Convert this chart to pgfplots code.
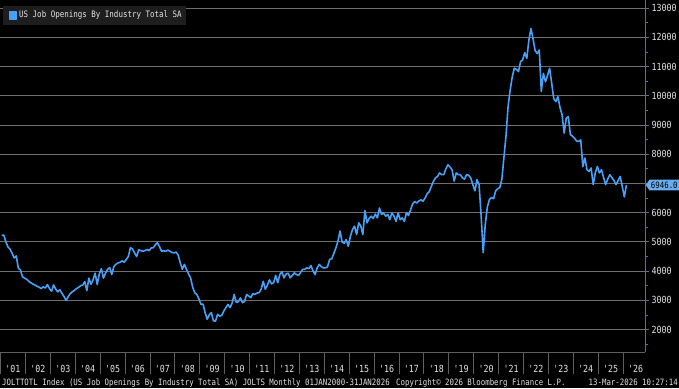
\documentclass[border=0pt]{standalone}
\usepackage{fontspec}
\setmainfont{DejaVu Sans Mono}
\usepackage{graphicx}
\usepackage{pgfplots}
\pgfplotsset{compat=1.18}
\usetikzlibrary{shapes.symbols}
\definecolor{linecol}{RGB}{72,160,248}
\definecolor{gridcol}{RGB}{110,110,110}
\definecolor{sepcol}{RGB}{95,95,95}
\definecolor{axcol}{RGB}{75,115,165}
\definecolor{tagcol}{RGB}{105,172,240}
\definecolor{txt}{RGB}{228,228,228}
\definecolor{legbg}{RGB}{30,30,30}
\newcommand\tall[1]{\scalebox{1}[1.18]{#1}}
\newcommand\yr[1]{\tall{\textquotesingle#1}}
\begin{document}
\begin{tikzpicture}
\useasboundingbox (0pt,0pt) rectangle (679pt,388pt);
\fill[black] (0pt,0pt) rectangle (679pt,388pt);
\begin{axis}[
  at={(0pt,36pt)}, anchor=south west,
  width=645pt, height=352pt, scale only axis,
  clip=false,
  xmin=2000.98, xmax=2026.88,
  ymin=1230, ymax=13280,
  axis line style={draw=none},
  xtick={2001.5,2002.5,...,2026.5},
  xticklabels={\yr{01},\yr{02},\yr{03},\yr{04},\yr{05},\yr{06},\yr{07},\yr{08},\yr{09},\yr{10},\yr{11},\yr{12},\yr{13},\yr{14},\yr{15},\yr{16},\yr{17},\yr{18},\yr{19},\yr{20},\yr{21},\yr{22},\yr{23},\yr{24},\yr{25},\yr{26}},
  xtick pos=bottom,
  xtick style={draw=none},
  xticklabel style={font=\fontsize{8.3}{9}\selectfont, text=txt, anchor=base, yshift=-16pt},
  scaled y ticks=false,
  ytick pos=right, yticklabel pos=right,
  ytick={2000,3000,...,13000},
  yticklabels={\tall{2000},\tall{3000},\tall{4000},\tall{5000},\tall{6000},,\tall{8000},\tall{9000},\tall{10000},\tall{11000},\tall{12000},\tall{13000}},
  minor ytick={1500,2500,...,12500},
  tick align=outside,
  major tick length=4pt, minor tick length=2.5pt,
  ytick style={axcol, line width=0.8pt},
  minor tick style={axcol, line width=0.8pt},
  yticklabel style={font=\fontsize{8.3}{9}\selectfont, text=txt, xshift=-1pt},
  ymajorgrids, grid style={gridcol, line width=0.8pt},
  legend style={at={(0.004,0.984)}, anchor=north west, fill=legbg, draw=none,
    text=txt, font=\fontsize{7.5}{9}\selectfont, inner xsep=2pt, inner ysep=3.5pt, outer sep=0pt},
  legend cell align=left,
  legend image code/.code={\path (0pt,0pt); \fill[linecol] (4pt,-3.5pt) rectangle (11pt,3.5pt);},
]
\draw[sepcol, line width=0.8pt] (rel axis cs:0,0) -- (rel axis cs:1,0);
\pgfplotsinvokeforeach{2001,...,2026}{\draw[sepcol, line width=0.8pt] (axis cs:#1,1230) -- ++(0pt,-22pt);}
\draw[axcol, line width=0.9pt] (rel axis cs:1,0) -- (rel axis cs:1,1);
\addplot[linecol, line width=1.6pt, line join=round, x filter/.expression={2001.05+x/12}] coordinates {
(0,5230)
(1,5230) (2,5000) (3,4830) (4,4750) (5,4610) (6,4450) (7,4520) (8,4100) (9,4040) (10,3800) (11,3760) (12,3720)
(13,3650) (14,3600) (15,3560) (16,3520) (17,3480) (18,3450) (19,3400) (20,3460) (21,3420) (22,3540) (23,3400) (24,3310)
(25,3530) (26,3380) (27,3290) (28,3360) (29,3240) (30,3130) (31,3000) (32,3120) (33,3230) (34,3290) (35,3340) (36,3400)
(37,3440) (38,3500) (39,3520) (40,3640) (41,3330) (42,3760) (43,3550) (44,3700) (45,3930) (46,3540) (47,3900) (48,4080)
(49,3760) (50,3930) (51,4060) (52,4120) (53,3880) (54,4150) (55,4230) (56,4280) (57,4300) (58,4350) (59,4300) (60,4400)
(61,4500) (62,4800) (63,4760) (64,4620) (65,4500) (66,4730) (67,4700) (68,4680) (69,4700) (70,4740) (71,4700) (72,4790)
(73,4800) (74,4900) (75,4970) (76,4840) (77,4680) (78,4700) (79,4670) (80,4720) (81,4680) (82,4640) (83,4620) (84,4650)
(85,4550) (86,4290) (87,4060) (88,4230) (89,4060) (90,3900) (91,3770) (92,3450) (93,3260) (94,3200) (95,3050) (96,2860)
(97,2870) (98,2580) (99,2350) (100,2500) (101,2580) (102,2300) (103,2280) (104,2520) (105,2460) (106,2480) (107,2630) (108,2750)
(109,2860) (110,2750) (111,2900) (112,3200) (113,2930) (114,2950) (115,3080) (116,2920) (117,2960) (118,3200) (119,3150) (120,3090)
(121,3230) (122,3200) (123,3250) (124,3260) (125,3380) (126,3650) (127,3380) (128,3520) (129,3700) (130,3560) (131,3600) (132,3850)
(133,3600) (134,3880) (135,3980) (136,3770) (137,3900) (138,3930) (139,3770) (140,3850) (141,3940) (142,3880) (143,3850) (144,3950)
(145,4060) (146,4060) (147,4110) (148,4080) (149,4190) (150,4000) (151,3880) (152,4110) (153,4230) (154,4150) (155,4110) (156,4110)
(157,4150) (158,4400) (159,4420) (160,4600) (161,4790) (162,5020) (163,5370) (164,5000) (165,4950) (166,5080) (167,4850) (168,5190)
(169,5420) (170,5540) (171,5250) (172,5650) (173,5550) (174,5250) (175,6070) (176,5650) (177,5800) (178,5880) (179,5800) (180,5950)
(181,5820) (182,6160) (183,5940) (184,5990) (185,5880) (186,5940) (187,5760) (188,5990) (189,5880) (190,5700) (191,5990) (192,5760)
(193,5820) (194,5700) (195,6000) (196,5900) (197,6100) (198,6300) (199,6380) (200,6330) (201,6400) (202,6440) (203,6390) (204,6500)
(205,6650) (206,6720) (207,6900) (208,7070) (209,7190) (210,7240) (211,7360) (212,7300) (213,7300) (214,7500) (215,7640) (216,7560)
(217,7470) (218,7080) (219,7360) (220,7300) (221,7300) (222,7190) (223,7150) (224,7300) (225,7280) (226,7190) (227,6960) (228,6750)
(229,7130) (230,6960) (231,5900) (232,4630) (233,5600) (234,6200) (235,6450) (236,6520) (237,6480) (238,6750) (239,6820) (240,6860)
(241,7150) (242,7900) (243,8650) (244,9650) (245,10200) (246,10650) (247,10950) (248,10900) (249,10830) (250,11170) (251,11230) (252,11480)
(253,11280) (254,11900) (255,12300) (256,11960) (257,11550) (258,11450) (259,11570) (260,10150) (261,10770) (262,10480) (263,10700) (264,10940)
(265,10430) (266,9900) (267,9800) (268,9970) (269,9600) (270,9350) (271,8720) (272,9230) (273,9290) (274,8670) (275,8620) (276,8550)
(277,8450) (278,8440) (279,8490) (280,7580) (281,7870) (282,7470) (283,7410) (284,7530) (285,6960) (286,7360) (287,7580) (288,7360)
(289,7470) (290,7200) (291,6960) (292,7150) (293,7300) (294,7200) (295,7100) (296,6960) (297,7100) (298,7240) (299,6900) (300,6540)
(301,6946)
};
\addlegendentry{\tall{US Job Openings By Industry Total SA}}
\node[shape=signal, signal to=west, signal pointer angle=110, fill=tagcol, text=black,
  font=\fontsize{7.4}{9}\selectfont, inner xsep=1.5pt, inner ysep=2pt, anchor=west]
  at (axis cs:2026.9,6946) {\tall{6946.0}};
\end{axis}
\node[anchor=base west, text=txt, font=\fontsize{7.4}{9}\selectfont, inner sep=0pt] at (2pt,3pt)
  {\tall{JOLTTOTL Index (US Job Openings By Industry Total SA) JOLTS Monthly 01JAN2000-31JAN2026}};
\node[anchor=base west, text=txt, font=\fontsize{7.4}{9}\selectfont, inner sep=0pt] at (396pt,3pt)
  {\tall{Copyright\textcopyright{} 2026 Bloomberg Finance L.P.}};
\node[anchor=base east, text=txt, font=\fontsize{7.4}{9}\selectfont, inner sep=0pt] at (678pt,3pt)
  {\tall{13-Mar-2026 10:27:14}};
\end{tikzpicture}
\end{document}
